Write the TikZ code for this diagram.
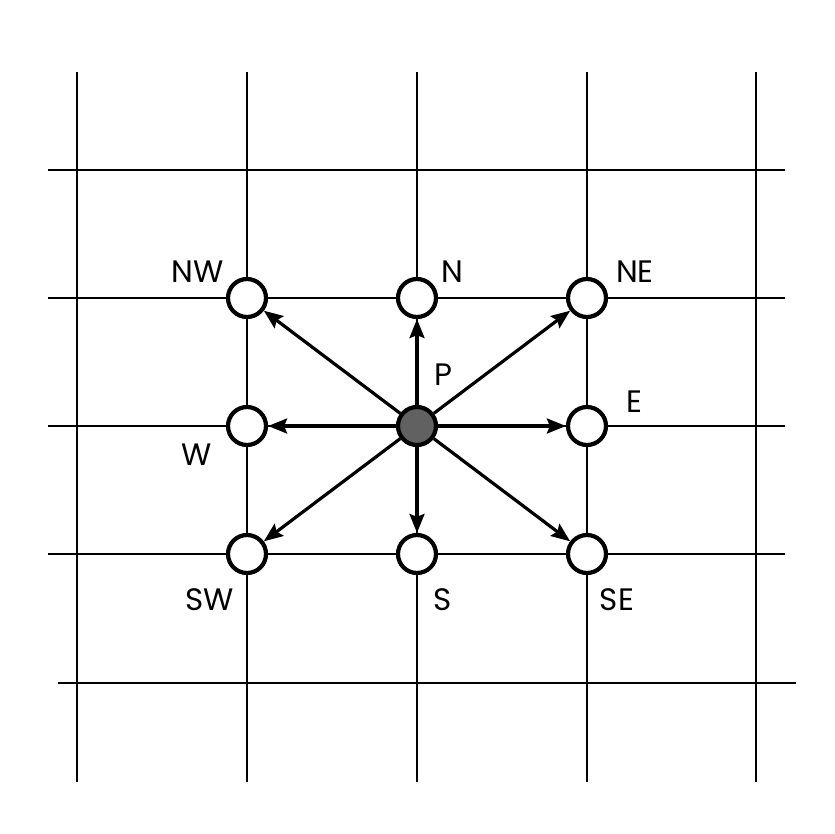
\documentclass[tikz,border=0pt]{standalone}
\usepackage{fontspec}
\setmainfont{Poppins}
\usetikzlibrary{arrows.meta}
\begin{document}
\begin{tikzpicture}[x=1pt,y=-1pt,
  gridline/.style={line width=2.8pt,black},
  cell/.style={circle,draw=black,line width=4.2pt,fill=white,minimum size=38pt,inner sep=0pt},
  center/.style={cell,fill=black!62},
  dir/.style={line width=3.2pt,-{Stealth[length=19pt,width=15pt,inset=3pt]}},
  lab/.style={font=\fontsize{31}{34}\selectfont,inner sep=0pt}]
\useasboundingbox (0,0) rectangle (834,834);
% grid
\foreach \x in {77,247,417,587,756} \draw[gridline] (\x,72) -- (\x,782);
\foreach \y in {170,298,426,554} \draw[gridline] (48,\y) -- (785,\y);
\draw[gridline] (58,683) -- (796,683);
% nodes
\node[cell] (NW) at (247,298) {};
\node[cell] (N) at (417,298) {};
\node[cell] (NE) at (587,298) {};
\node[cell] (W) at (247,426) {};
\node[center] (P) at (417,426) {};
\node[cell] (E) at (587,426) {};
\node[cell] (SW) at (247,554) {};
\node[cell] (S) at (417,554) {};
\node[cell] (SE) at (587,554) {};
% arrows
\foreach \t in {NW,N,NE,W,E,SW,S,SE} \draw[dir] (P) -- (\t);
% labels
\node[lab] (lNW) at (198,272) {NW};
\node[lab] (lN) at (452,272) {N};
\node[lab] (lNE) at (635,272) {NE};
\node[lab] (lP) at (443,375) {P};
\node[lab] (lE) at (634,402) {E};
\node[lab] (lW) at (197,455) {W};
\node[lab] (lSW) at (210,600) {SW};
\node[lab] (lS) at (443,600) {S};
\node[lab] (lSE) at (617,600) {SE};
\end{tikzpicture}
\end{document}
